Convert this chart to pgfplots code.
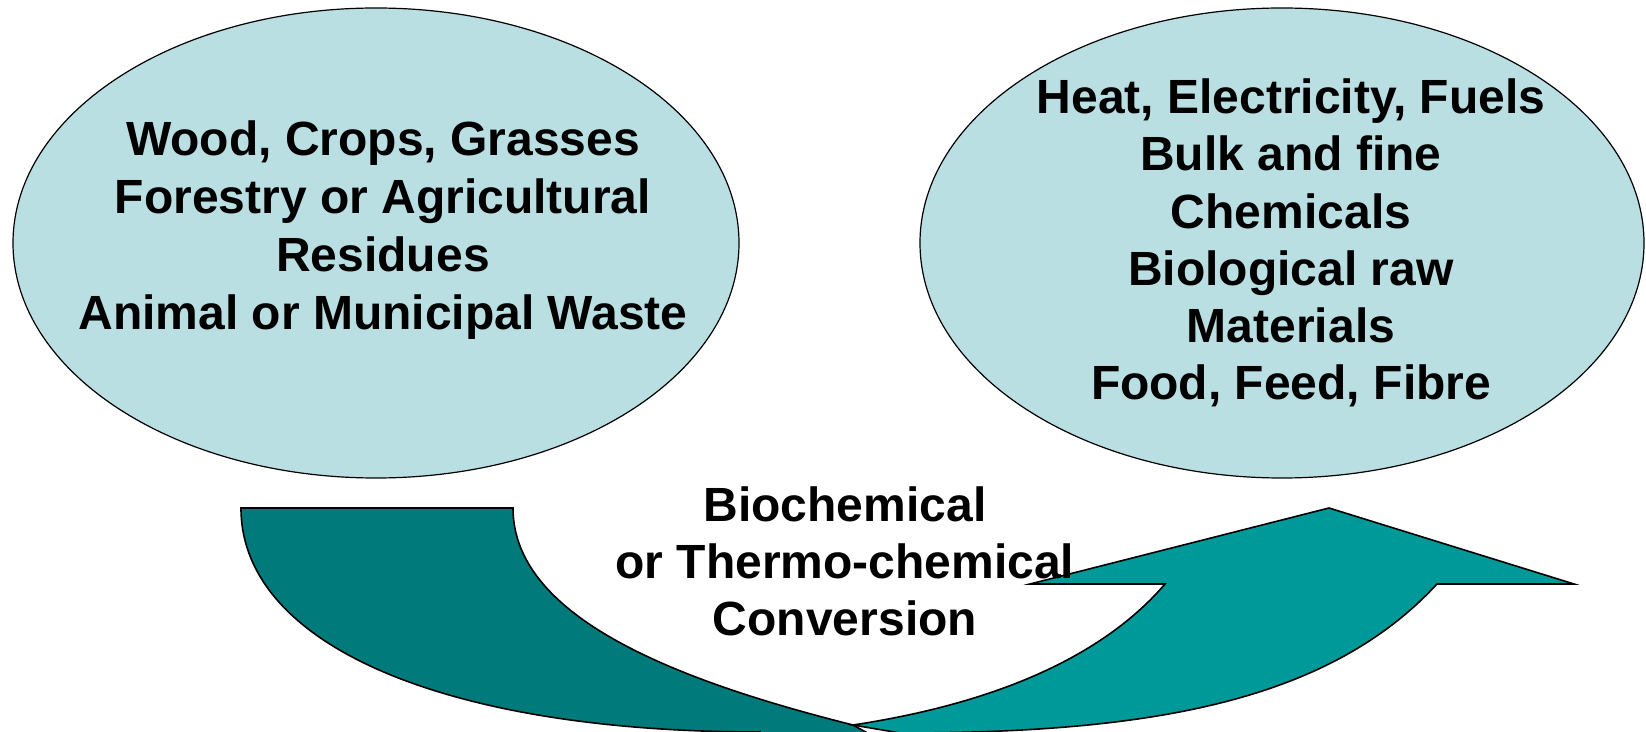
\documentclass[border=0pt]{standalone}
\usepackage{pgfplots}
\pgfplotsset{compat=1.18}
\usepackage{fontspec}
\setmainfont{Liberation Sans}
\definecolor{ellfill}{RGB}{185,223,227}
\definecolor{darkteal}{RGB}{0,122,122}
\definecolor{lightteal}{RGB}{0,153,153}
\begin{document}
\begin{tikzpicture}
\begin{axis}[
  scale only axis, width=823pt, height=366pt,
  xmin=0, xmax=1646, ymin=0, ymax=732, y dir=reverse,
  hide axis, clip=true,
]
% ellipses
\draw[fill=ellfill, draw=black, line width=0.6pt] (376,243) ellipse [x radius=363, y radius=235];
\draw[fill=ellfill, draw=black, line width=0.6pt] (1282,243) ellipse [x radius=362, y radius=235];
% dark arrow tail band
\draw[fill=darkteal, draw=black, line width=0.8pt]
  (241,508) -- (513,508)
  .. controls (513,618) and (678,681) .. (853,725)
  -- (880,740) -- (760,740) -- (760,732)
  .. controls (440,732) and (241,643) .. (241,508)
  -- cycle;
% light arrow with head
\draw[fill=lightteal, draw=black, line width=0.8pt]
  (853,725)
  .. controls (952,710) and (1087,675) .. (1165,584)
  -- (1030,584) -- (1329,508) -- (1574,584) -- (1437,584)
  .. controls (1328,702) and (1150,733) .. (900,733)
  -- cycle;
% texts
\node[align=center, font=\fontsize{24}{29}\selectfont\bfseries] at (383,230)
  {Wood, Crops, Grasses\\Forestry or Agricultural\\Residues\\Animal or Municipal Waste};
\node[align=center, font=\fontsize{24}{28.6}\selectfont\bfseries] at (1291,243)
  {Heat, Electricity, Fuels\\Bulk and fine\\Chemicals\\Biological raw\\Materials\\Food, Feed, Fibre};
\node[align=center, font=\fontsize{24}{28.5}\selectfont\bfseries] at (845,561)
  {Biochemical\\or Thermo-chemical\\Conversion};
\end{axis}
\pgfresetboundingbox
\useasboundingbox (current axis.south west) rectangle (current axis.north east);
\end{tikzpicture}
\end{document}
